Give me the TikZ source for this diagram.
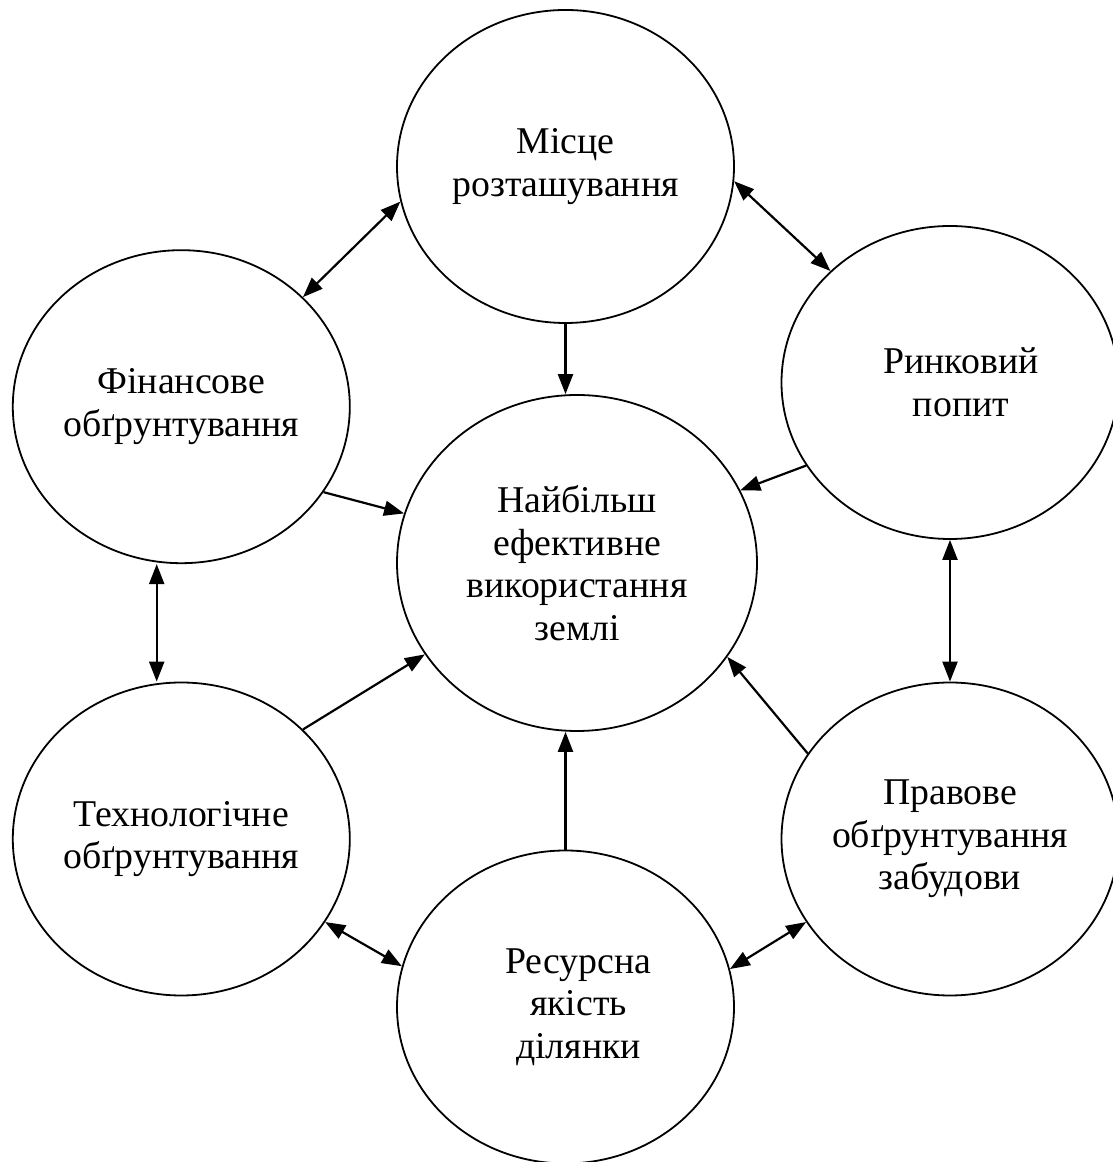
\documentclass[tikz,border=0pt]{standalone}
\usepackage{fontspec}
\setmainfont{Liberation Serif}
\usetikzlibrary{shapes.geometric,arrows.meta}
\begin{document}
\begin{tikzpicture}[x=1pt,y=1pt,
  bub/.style={ellipse, draw, line width=1.8pt, minimum width=337pt, minimum height=313pt,
              inner sep=0pt, align=center, font=\fontsize{37.8}{42.5}\selectfont},
  onearrow/.style={line width=2.2pt, -{Triangle[length=20pt,width=15pt]}},
  twoarrow/.style={line width=2.2pt, {Triangle[length=20pt,width=15pt]}-{Triangle[length=20pt,width=15pt]}}]
\useasboundingbox (0,0) rectangle (1113,1162);
\clip (0,0) rectangle (1113,1162);
\node[bub] (T) at (565.5,995.5) {Місце\\розташування};
\node[bub] (F) at (181.3,755.3) {Фінансове\\обґрунтування};
\node[bub] (R) at (950,779.5) {\hspace*{22pt}Ринковий\\\hspace*{22pt}попит};
\node[bub, minimum width=360pt, minimum height=336pt] (C) at (577,599) {Найбільш\\ефективне\\використання\\землі};
\node[bub] (Tech) at (181.3,323) {Технологічне\\обґрунтування};
\node[bub] (P) at (950,323) {Правове\\обґрунтування\\забудови};
\node[bub] (Res) at (565.5,155) {\hspace*{26pt}Ресурсна\\\hspace*{26pt}якість\\\hspace*{26pt}ділянки};
% connectors
\draw[twoarrow] (F.42.3) -- (T.192.2);
\draw[twoarrow] (T.355.7) -- (R.137.9);
\draw[onearrow] (T.south) -- (T.south |- C.north);
\draw[onearrow] (F.329.4) -- (C.164.8);
\draw[onearrow] (R.210.4) -- (C.24.7);
\draw[twoarrow] ([xshift=-24.6pt]F.south) -- ([xshift=-24.6pt]Tech.north);
\draw[twoarrow] (R.south) -- (P.north);
\draw[onearrow] (Tech.42.2) -- (C.211.5);
\draw[onearrow] (P.149.6) -- (C.328.4);
\draw[onearrow] (Res.north) -- (Res.north |- C.south);
\draw[twoarrow] (Tech.330) -- (Res.166);
\draw[twoarrow] (P.210.2) -- (Res.13.4);
\end{tikzpicture}
\end{document}
